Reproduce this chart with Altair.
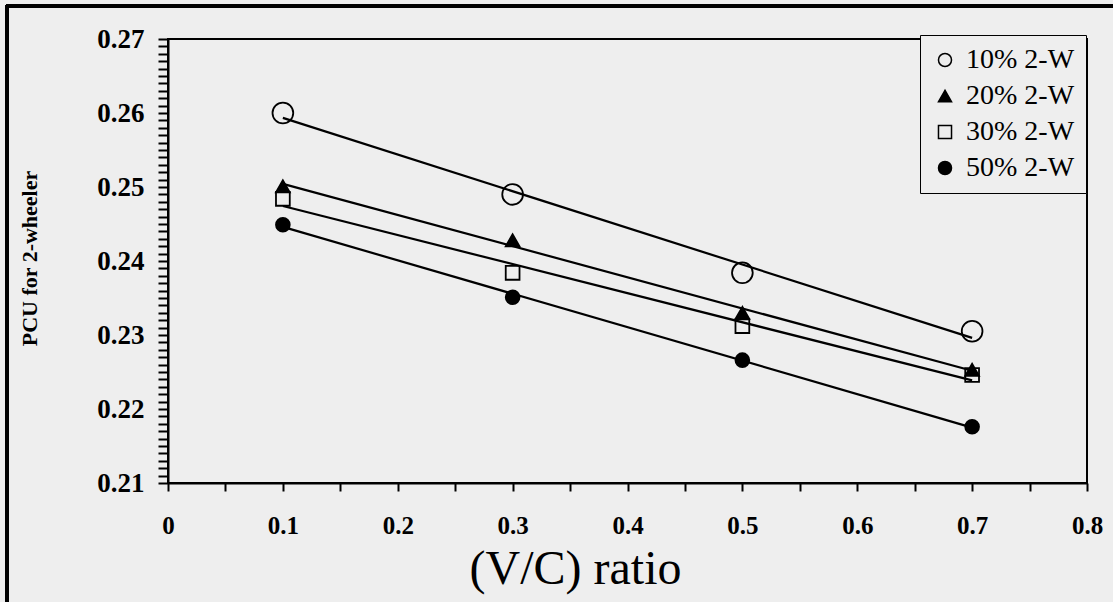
import altair as alt
import pandas as pd

# PCU of 2-wheelers against volume/capacity ratio, by share of 2-wheelers
vc_ratio = [0.1, 0.3, 0.5, 0.7]
series_names = ["10% 2-W", "20% 2-W", "30% 2-W", "50% 2-W"]
pcu_10 = [0.2600, 0.2490, 0.2384, 0.2305]
pcu_20 = [0.2501, 0.2428, 0.2330, 0.2253]
pcu_30 = [0.2484, 0.2384, 0.2312, 0.2246]
pcu_50 = [0.2449, 0.2351, 0.2266, 0.2176]

rows = []
for name, values in zip(series_names, [pcu_10, pcu_20, pcu_30, pcu_50]):
    for x, y in zip(vc_ratio, values):
        rows.append({"vc": x, "pcu": y, "series": name})
df = pd.DataFrame(rows)

x_ticks = [round(i * 0.05, 2) for i in range(17)]
y_ticks = [round(0.21 + i * 0.001, 3) for i in range(61)]

SERIF = "Liberation Serif"
BG = "#eeeeee"

x_scale = alt.Scale(domain=[0, 0.8], nice=False, zero=False)
y_scale = alt.Scale(domain=[0.21, 0.27], nice=False, zero=False)
shape_scale = alt.Scale(domain=series_names,
                        range=["circle", "triangle-up", "square", "circle"])
fill_scale = alt.Scale(domain=series_names,
                       range=["transparent", "black", "transparent", "black"])

x_axis = alt.Axis(
    values=x_ticks,
    labelExpr="abs(datum.value*10 - round(datum.value*10)) < 0.001 ? (datum.value == 0 ? '0' : format(datum.value, '.1f')) : ''",
    title="(V/C) ratio",
    titleFont=SERIF, titleFontSize=48, titleFontWeight="normal",
    titleX=407, titleY=100, titleBaseline="alphabetic", titleAlign="center",
    labelFont=SERIF, labelFontSize=25, labelFontWeight="bold",
    labelPadding=22, tickSize=8, tickWidth=2, tickColor="black",
    domainColor="black", domainWidth=2, grid=False, labelColor="black",
    titleColor="black", labelFlush=False,
)
y_axis = alt.Axis(
    values=y_ticks,
    labelExpr="abs(datum.value*100 - round(datum.value*100)) < 0.01 ? format(datum.value, '.2f') : ''",
    title="PCU for 2-wheeler",
    titleFont=SERIF, titleFontSize=22, titleFontWeight="bold",
    titleX=-139, titleY=219, titleBaseline="middle", titleAlign="center",
    labelFont=SERIF, labelFontSize=27, labelFontWeight="bold",
    labelPadding=14, tickSize=10, tickWidth=2, tickColor="black",
    domainColor="black", domainWidth=2, grid=False, labelColor="black",
    titleColor="black", labelFlush=False,
)

legend = alt.Legend(
    orient="none", legendX=752, legendY=-4,
    labelFont=SERIF, labelFontSize=28, labelColor="black",
    symbolSize=170, symbolStrokeWidth=1.5,
    rowPadding=8, padding=11, strokeColor="black",
    fillColor=BG, labelOffset=7,
)

trend = (
    alt.Chart(df)
    .transform_regression("vc", "pcu", groupby=["series"], extent=[0.1, 0.7])
    .mark_line(color="black", strokeWidth=2.2)
    .encode(
        x=alt.X("vc:Q", scale=x_scale, axis=x_axis),
        y=alt.Y("pcu:Q", scale=y_scale, axis=y_axis),
        detail="series:N",
    )
)


def marker_layer(names, size):
    return (
        alt.Chart(df)
        .transform_filter(alt.FieldOneOfPredicate(field="series", oneOf=names))
        .mark_point(stroke="black", strokeWidth=1.8, opacity=1, size=size)
        .encode(
            x=alt.X("vc:Q", scale=x_scale, axis=x_axis),
            y=alt.Y("pcu:Q", scale=y_scale, axis=y_axis),
            shape=alt.Shape("series:N", title="", scale=shape_scale, legend=legend),
            fill=alt.Fill("series:N", title="", scale=fill_scale, legend=legend),
        )
    )


open_circles = marker_layer(["10% 2-W"], 430)
small_markers = marker_layer(["20% 2-W", "30% 2-W", "50% 2-W"], 190)

# page frame along the left and top edges
frame_left = alt.Chart(df).mark_rule(color="black", strokeWidth=3).encode(
    x=alt.value(-161), y=alt.value(-34), y2=alt.value(563)
)
frame_top = alt.Chart(df).mark_rule(color="black", strokeWidth=3).encode(
    x=alt.value(-162), x2=alt.value(945), y=alt.value(-33)
)

chart = (
    alt.layer(trend, open_circles, small_markers, frame_left, frame_top)
    .properties(
        width=919, height=444,
        autosize=alt.AutoSizeParams(type="none"),
        padding={"left": 168, "top": 39, "right": 26, "bottom": 119},
        background=BG,
    )
    .configure_view(stroke="black", strokeWidth=2)
)

chart.save("out.html", embed_options={"renderer": "svg", "actions": False})
